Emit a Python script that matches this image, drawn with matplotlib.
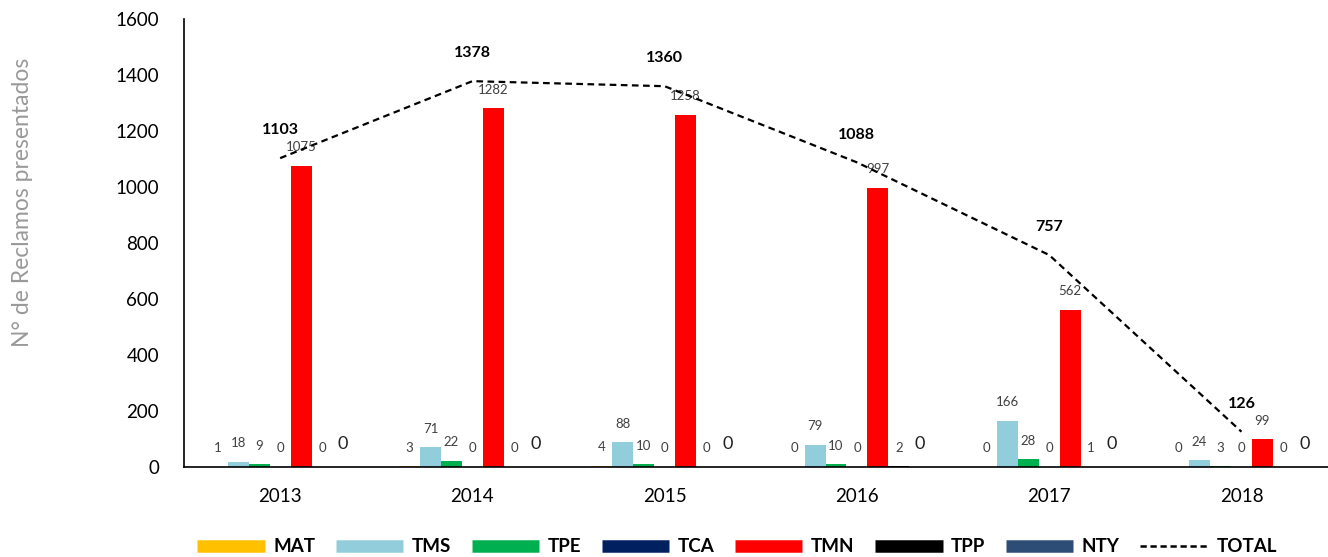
import numpy as np
import matplotlib.pyplot as plt
from matplotlib.lines import Line2D

plt.rcParams["font.family"] = ["Lato", "DejaVu Sans"]

years = ["2013", "2014", "2015", "2016", "2017", "2018"]
series_names = ["MAT", "TMS", "TPE", "TCA", "TMN", "TPP", "NTY"]
mat = [1, 3, 4, 0, 0, 0]
tms = [18, 71, 88, 79, 166, 24]
tpe = [9, 22, 10, 10, 28, 3]
tca = [0, 0, 0, 0, 0, 0]
tmn = [1075, 1282, 1258, 997, 562, 99]
tpp = [0, 0, 0, 2, 1, 0]
nty = [0, 0, 0, 0, 0, 0]
total = [1103, 1378, 1360, 1088, 757, 126]

colors = ["#FFC000", "#92CDDC", "#00B050", "#002060", "#FF0000", "#000000", "#2E4D76"]
values = [mat, tms, tpe, tca, tmn, tpp, nty]

fig = plt.figure(figsize=(13.28, 5.57), dpi=100)
ax = fig.add_axes([184 / 1328, 90 / 557, 1144 / 1328, 448 / 557])

x = np.arange(len(years))
w = 0.109
for i, (vals, c) in enumerate(zip(values, colors)):
    pos = x + (i - 3) * w
    ax.bar(pos, vals, width=w, color=c, zorder=2)
    big = series_names[i] == "NTY"
    for px, v in zip(pos, vals):
        ax.annotate(str(v), (px, v), xytext=(0, 11 if big else 9),
                    textcoords="offset points", ha="center", va="bottom",
                    fontsize=13 if big else 9.5, color="#222222" if big else "#404040")

# total line with bold labels
ax.plot(x, total, color="black", linestyle=(0, (3, 2)), linewidth=1.6, zorder=3)
for px, v in zip(x, total):
    ax.annotate(str(v), (px, v), xytext=(0, 15), textcoords="offset points",
                ha="center", va="bottom", fontsize=11.5, fontweight="bold")

ax.set_xlim(-0.5, 5.45)
ax.set_ylim(0, 1600)
ax.set_yticks(range(0, 1601, 200))
ax.set_xticks(x)
ax.set_xticklabels(years)
ax.tick_params(axis="both", length=0, labelsize=13.5)
ax.tick_params(axis="y", pad=18)
ax.tick_params(axis="x", pad=15)
for s in ["top", "right"]:
    ax.spines[s].set_visible(False)
ax.spines["left"].set_linewidth(1.2)
ax.spines["bottom"].set_linewidth(1.2)
ax.set_ylabel("N° de Reclamos presentados", fontsize=16.5, color="#999999")
ax.yaxis.set_label_coords(-0.132, 0.59)

handles = [Line2D([0], [0], color=c, linewidth=9, solid_capstyle="butt") for c in colors]
handles.append(Line2D([0], [0], color="black", linestyle=(0, (2.5, 1.5)), linewidth=1.8))
leg = fig.legend(handles, series_names + ["TOTAL"], loc="center", ncol=8,
                 bbox_to_anchor=(0.555, 0.018), frameon=False, handlelength=3.6,
                 columnspacing=1.1, handletextpad=0.45,
                 prop={"weight": "bold", "size": 13.5})

fig.savefig("out.png", dpi=100)
